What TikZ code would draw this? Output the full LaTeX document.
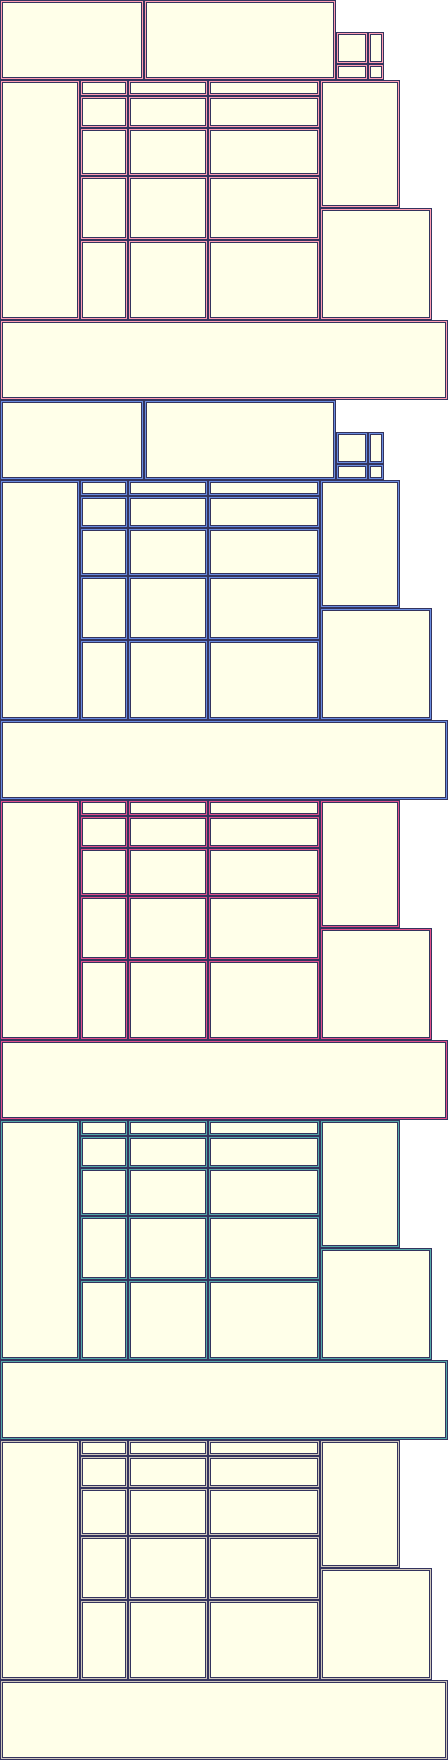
\documentclass[tikz,border=0pt]{standalone}
\usepackage{xcolor}
\usepackage{tikz}

\definecolor{edgec}{HTML}{34345E}
\definecolor{cellfill}{HTML}{FFFFE9}
\definecolor{pinkc}{HTML}{FF9EB4}
\definecolor{bluec}{HTML}{6A8CE0}
\definecolor{magc}{HTML}{E0508C}
\definecolor{tealc}{HTML}{55A8AA}
\definecolor{greyc}{HTML}{CFC7BD}

\tikzset{
  cellbox/.style={draw=edgec, fill=cellfill, line width=0.75pt,
    double=#1, double distance=0.75pt}
}

% one cell, given by its corners (x0,y0) and (x1,y1), shifted down by #6
\newcommand{\cell}[6]{%
  \draw[cellbox=#5] ({#1+1.5},{#2+#6+1.5}) rectangle ({#3-1.5},{#4+#6-1.5});}

% top row of a section
\newcommand{\toprow}[2]{%
  \cell{0}{-80}{144}{0}{#2}{#1}
  \cell{144}{-80}{336}{0}{#2}{#1}
  \cell{336}{-48}{368}{-16}{#2}{#1}
  \cell{368}{-48}{384}{-16}{#2}{#1}
  \cell{336}{-16}{368}{0}{#2}{#1}
  \cell{368}{-16}{384}{0}{#2}{#1}}

% middle block and wide bar of a section
\newcommand{\midblock}[2]{%
  \cell{0}{0}{80}{240}{#2}{#1}
  \foreach \ya/\yb in {0/16, 16/48, 48/96, 96/160, 160/240} {
    \cell{80}{\ya}{128}{\yb}{#2}{#1}
    \cell{128}{\ya}{208}{\yb}{#2}{#1}
    \cell{208}{\ya}{320}{\yb}{#2}{#1}
  }
  \cell{320}{0}{400}{128}{#2}{#1}
  \cell{320}{128}{432}{240}{#2}{#1}
  \cell{0}{240}{448}{320}{#2}{#1}}

\begin{document}
\begin{tikzpicture}[x=0.75pt, y=-0.75pt]
\useasboundingbox (0,0) rectangle (448,1760);

% section 1
\toprow{80}{pinkc}
\midblock{80}{pinkc}

% section 2
\toprow{480}{bluec}
\midblock{480}{bluec}

% section 3
\midblock{800}{magc}

% section 4
\midblock{1120}{tealc}

% section 5
\midblock{1440}{greyc}
\end{tikzpicture}
\end{document}
